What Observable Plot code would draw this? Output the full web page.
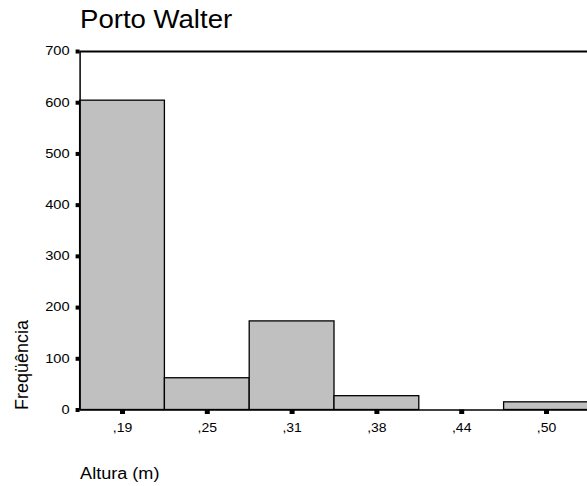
<!DOCTYPE html>
<html>
<head>
<meta charset="utf-8">
<script src="https://cdn.jsdelivr.net/npm/d3@7"></script>
<script src="https://cdn.jsdelivr.net/npm/@observablehq/plot@0.6"></script>
<style>
  html, body { margin: 0; padding: 0; background: white; }
  #wrap { position: relative; width: 587px; height: 486px; overflow: hidden; }
  #title { position: absolute; left: 80px; top: 6px; margin: 0; font: 26px/26px "Liberation Sans", Arial, sans-serif; color: #000; transform: scaleX(1.06); transform-origin: left top; white-space: nowrap; font-weight: normal; }
  #chart { position: absolute; left: 0; top: 0; }
  #chart text { stroke: none; font-weight: normal; }
</style>
</head>
<body>
<div id="wrap">
  <div id="chart"></div>
  <h2 id="title">Porto Walter</h2>
</div>
<script>
// ---- data ----
const binCenters = [0.1875, 0.25, 0.3125, 0.375, 0.4375, 0.5];
const tickLabels = [",19", ",25", ",31", ",38", ",44", ",50"];
const counts = [604, 62, 173, 27, 0, 15];
const binWidth = 0.0625;
const yTicks = [0, 100, 200, 300, 400, 500, 600, 700];
const xLabel = "Altura (m)";
const yLabel = "Freqüência";

const bins = binCenters.map((c, i) => ({x1: c - binWidth / 2, x2: c + binWidth / 2, count: counts[i]}));

const W = 587, H = 486;
const mL = 79.6, mR = 0, mT = 51, mB = 76.5;
const binPx = 84.8;
const xmin = binCenters[0] - binWidth / 2;
const xmax = xmin + (W - mL - mR) / binPx * binWidth;

const chart = Plot.plot({
  width: W, height: H,
  marginLeft: mL, marginRight: mR, marginTop: mT, marginBottom: mB,
  style: {fontFamily: "'Liberation Sans', Arial, sans-serif", background: "white", color: "black", overflow: "visible"},
  x: {domain: [xmin, xmax]},
  y: {domain: [0, 700]},
  marks: [
    Plot.rectY(bins, {x1: "x1", x2: "x2", y: "count", fill: "#c0c0c0", stroke: "black", strokeWidth: 1.3}),
    Plot.ruleY([700], {stroke: "black", strokeWidth: 2}),
    Plot.ruleY([0], {stroke: "black", strokeWidth: 1.5}),
    Plot.ruleX([xmin], {stroke: "black", strokeWidth: 1.5}),
    Plot.axisY(yTicks, {tickSize: 4, strokeWidth: 4, tickPadding: 6.5, fontSize: 12, label: null}),
    Plot.axisX(binCenters, {tickSize: 4.5, strokeWidth: 5, tickPadding: 9, fontSize: 12.5, label: null,
      tickFormat: d => tickLabels[binCenters.indexOf(d)]}),
    Plot.text([xLabel], {frameAnchor: "bottom-left", textAnchor: "start", lineAnchor: "top", dy: 58, fontSize: 16, fill: "black"}),
    Plot.text([yLabel], {frameAnchor: "bottom-left", textAnchor: "start", lineAnchor: "middle", rotate: -90, dx: -58, fontSize: 18, fill: "black"})
  ]
});

// horizontal stretch of glyphs, as in the reference rendering
chart.querySelectorAll("text").forEach(el => {
  const g = el.closest("g");
  const lab = g ? (g.getAttribute("aria-label") || "") : "";
  let sx = 1;
  if (lab.startsWith("y-axis tick label")) { sx = 1.22; el.style.fontSize = "12px"; }
  else if (lab.startsWith("x-axis tick label")) { sx = 1.12; el.style.fontSize = "12.5px"; }
  else if (el.textContent === xLabel) sx = 1.13;
  if (sx !== 1) {
    const t = el.getAttribute("transform") || "";
    el.setAttribute("transform", (t + ` scale(${sx},1)`).trim());
  }
});

document.getElementById("chart").appendChild(chart);
</script>
</body>
</html>
